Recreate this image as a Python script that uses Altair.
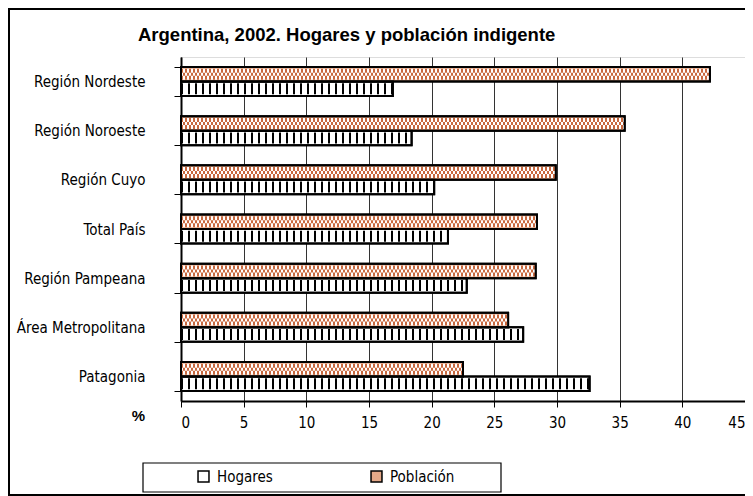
import altair as alt
import pandas as pd

regions = ["Región Nordeste", "Región Noroeste", "Región Cuyo", "Total País",
           "Región Pampeana", "Área Metropolitana", "Patagonia"]
hogares = [16.9, 18.4, 20.2, 21.3, 22.8, 27.3, 32.6]
poblacion = [42.2, 35.4, 29.9, 28.4, 28.3, 26.1, 22.5]
series = ["Hogares", "Población"]
x_ticks = [0, 5, 10, 15, 20, 25, 30, 35, 40, 45]
title_text = "Argentina, 2002. Hogares y población indigente"

rows = []
for r, h, p in zip(regions, hogares, poblacion):
    rows.append({"region": r, "serie": "Hogares", "valor": h, "cero": 0})
    rows.append({"region": r, "serie": "Población", "valor": p, "cero": 0})
df = pd.DataFrame(rows)

NARROW = "Liberation Sans Narrow, Arial Narrow, DejaVu Sans Condensed, sans-serif"
BOLD = "Liberation Sans, Arial, sans-serif"
ORANGE = "#c9683e"

y_enc = alt.Y(
    "region:N", sort=regions,
    scale=alt.Scale(paddingInner=0.41, paddingOuter=0.205),
    axis=alt.Axis(
        title="%", titleAngle=0, titleX=-43, titleY=358, titleAlign="center",
        titleBaseline="middle", titleFont=BOLD, titleFontSize=15, titleFontWeight="bold",
        titleColor="black",
        labelFont=NARROW, labelFontSize=15, labelColor="black", labelPadding=29,
        tickBand="extent", tickSize=7, tickColor="black", tickWidth=1,
        domainColor="black", domainWidth=2, grid=False,
    ),
)
yoff_enc = alt.YOffset("serie:N", sort=["Población", "Hogares"],
                       scale=alt.Scale(paddingInner=0, paddingOuter=0))
x_enc = alt.X(
    "valor:Q",
    scale=alt.Scale(domain=[0, 45], nice=False),
    axis=alt.Axis(
        values=x_ticks, title=None, labelFont=NARROW, labelFontSize=15,
        labelColor="black", labelPadding=8, tickSize=6, tickColor="black",
        domainColor="black", domainWidth=2, grid=True, gridColor="#333333",
        gridWidth=1,
    ),
)

bars = alt.Chart(df).mark_bar(stroke="black", strokeWidth=2).encode(
    y=y_enc, yOffset=yoff_enc, x=x_enc,
    fill=alt.Fill(
        "serie:N",
        scale=alt.Scale(domain=series, range=["#ffffff", "#e4a888"]),
        legend=alt.Legend(
            title=None, orient="none", direction="horizontal",
            legendX=15, legendY=412, symbolType="square", symbolSize=120,
            symbolStrokeColor="black", symbolStrokeWidth=1.5,
            labelFont=NARROW, labelFontSize=15, labelColor="black",
            labelOffset=6, columnPadding=95, padding=0,
        ),
    ),
)

enc = dict(y=y_enc, yOffset=yoff_enc, x=alt.X("cero:Q"), x2="valor:Q")

base_h = alt.Chart(df).transform_filter(alt.datum.serie == "Hogares")
stripes_h = base_h.mark_rule(stroke="black", strokeWidth=11, strokeDash=[2, 5]).encode(**enc)

base_p = alt.Chart(df).transform_filter(alt.datum.serie == "Población")
white_p = base_p.mark_rule(stroke="white", strokeWidth=11).encode(**enc)
weave1 = base_p.mark_rule(stroke=ORANGE, strokeWidth=11, strokeDash=[2, 2]).encode(**enc)
weave2 = base_p.mark_rule(stroke="white", strokeWidth=3).encode(**enc)
weave3 = base_p.mark_rule(stroke=ORANGE, strokeWidth=3, strokeDash=[2, 2],
                          strokeDashOffset=2).encode(**enc)
outline = alt.Chart(df).mark_bar(stroke="black", strokeWidth=2, fillOpacity=0).encode(
    y=y_enc, yOffset=yoff_enc, x=x_enc
)

one = alt.Data(values=[{"k": 1}])
frame = alt.Chart(one).mark_rect(
    fill="transparent", stroke="black", strokeWidth=2
).encode(x=alt.value(-172), x2=alt.value(582), y=alt.value(-48), y2=alt.value(438))

legend_box = alt.Chart(one).mark_rect(
    fill="transparent", stroke="black", strokeWidth=1.2
).encode(x=alt.value(-38), x2=alt.value(320), y=alt.value(406), y2=alt.value(435))

title = alt.Chart(one).mark_text(
    text=title_text, font=BOLD, fontSize=18.5, fontWeight="bold", color="black",
    align="left", baseline="middle"
).encode(x=alt.value(-43), y=alt.value(-22))

chart = alt.layer(bars, stripes_h, white_p, weave1, weave2, weave3, outline, frame,
                  legend_box, title).properties(
    width=564, height=344,
    autosize=alt.AutoSizeParams(type="none"),
    padding={"left": 173, "top": 49, "right": 0, "bottom": 95},
).configure_view(stroke="#808080", strokeWidth=2).configure(background="white")

chart.save("out.html", embed_options={"renderer": "svg", "actions": False})
